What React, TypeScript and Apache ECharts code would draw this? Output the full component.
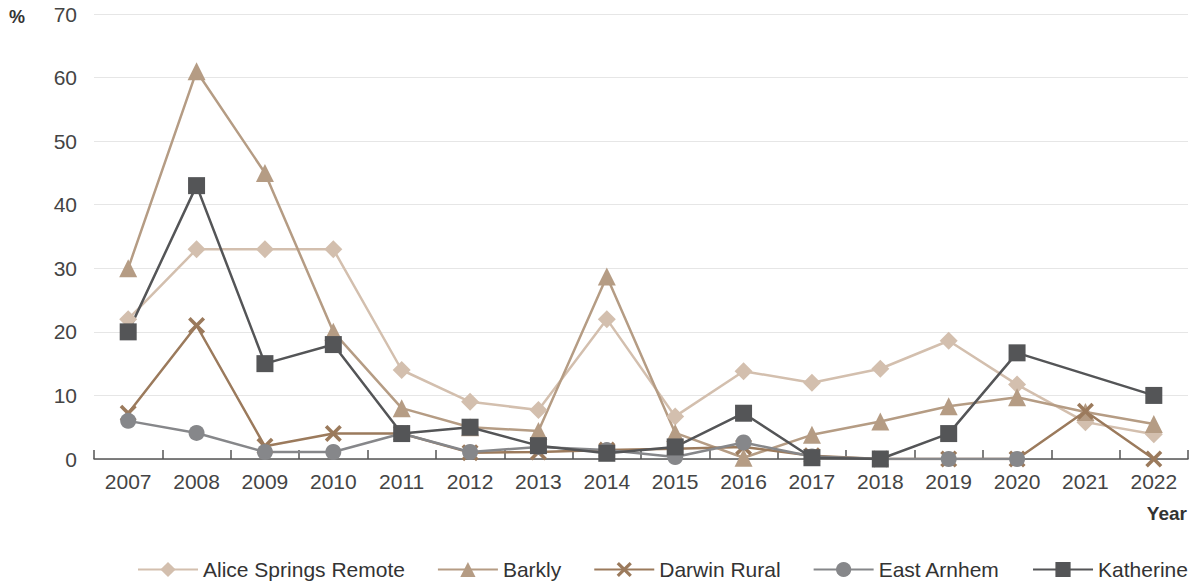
import React, { useEffect, useRef } from "react";
import * as echarts from "echarts";

const years = ["2007","2008","2009","2010","2011","2012","2013","2014","2015","2016","2017","2018","2019","2020","2021","2022"];
const aliceSprings = [22, 33, 33, 33, 14, 9, 7.7, 22, 6.7, 13.8, 12, 14.2, 18.6, 11.7, 5.8, 3.9];
const barkly = [30, 61, 45, 20, 8, 5, 4.4, 28.7, 4.1, 0.2, 3.8, 5.9, 8.3, 9.7, 7.4, 5.5];
const darwinRural = [7.2, 21, 2, 4, 4, 1, 1.1, 1.4, 1.6, 1.9, 0.5, 0, 0, 0, 7.5, 0];
const eastArnhem = [6, 4.1, 1.1, 1.1, 4, 1.1, 1.9, 1.4, 0.3, 2.6, 0.4, 0, 0, 0, null, null];
const katherine = [20, 43, 15, 18, 4, 5, 2.1, 0.9, 1.9, 7.2, 0.2, 0, 4, 16.7, null, 10];
const yTicks = [0, 10, 20, 30, 40, 50, 60, 70];

const crossPath = "path://M3,0 L10,7 L17,0 L20,3 L13,10 L20,17 L17,20 L10,13 L3,20 L0,17 L7,10 L0,3 Z";

export default function App() {
  const ref = useRef<HTMLDivElement>(null);
  useEffect(() => {
    document.body.style.margin = "0";
    const chart = echarts.init(ref.current!, null, { renderer: "svg" });
    const font = "Liberation Sans, Arial, sans-serif";
    const mk = (name: string, data: (number | null)[], color: string, symbol: string, size: number) => ({
      name,
      type: "line",
      data,
      connectNulls: true,
      symbol,
      symbolSize: size,
      showAllSymbol: true,
      lineStyle: { color, width: 2.5 },
      itemStyle: { color },
      emphasis: { disabled: true },
    });
    chart.setOption({
      animation: false,
      textStyle: { fontFamily: font },
      grid: { left: 94, right: 9, top: 14, bottom: 125 },
      legend: {
        top: 554,
        left: 132,
        itemWidth: 60,
        itemHeight: 19,
        itemGap: 32,
        textStyle: { fontSize: 21, color: "#333", fontFamily: font },
        data: ["Alice Springs Remote", "Barkly", "Darwin Rural", "East Arnhem", "Katherine"],
      },
      xAxis: {
        type: "category",
        data: years,
        boundaryGap: true,
        axisLine: { lineStyle: { color: "#555", width: 1.5 } },
        axisTick: { show: true, inside: true, length: 9, lineStyle: { color: "#555", width: 1.5 } },
        axisLabel: { fontSize: 21, color: "#444", margin: 12, fontFamily: font },
      },
      yAxis: {
        type: "value",
        min: yTicks[0],
        max: yTicks[yTicks.length - 1],
        interval: 10,
        axisLine: { show: false },
        axisTick: { show: false },
        splitLine: { lineStyle: { color: "#e6e6e6", width: 1 } },
        axisLabel: { fontSize: 21, color: "#444", margin: 17, fontFamily: font },
      },
      graphic: [
        { type: "text", left: 9, top: 8, style: { text: "%", fontSize: 18, fontWeight: "bold", fill: "#333", fontFamily: font } },
        { type: "text", right: 10, top: 504, style: { text: "Year", fontSize: 19, fontWeight: "bold", fill: "#333", fontFamily: font } },
      ],
      series: [
        mk("Alice Springs Remote", aliceSprings, "#d3bfae", "diamond", 18),
        mk("Barkly", barkly, "#b59c84", "triangle", 18),
        mk("Darwin Rural", darwinRural, "#9b7a5c", crossPath, 17),
        mk("East Arnhem", eastArnhem, "#86878a", "circle", 16),
        mk("Katherine", katherine, "#545557", "rect", 17),
      ],
    });
    return () => chart.dispose();
  }, []);
  return <div ref={ref} style={{ width: 1197, height: 584 }} />;
}
